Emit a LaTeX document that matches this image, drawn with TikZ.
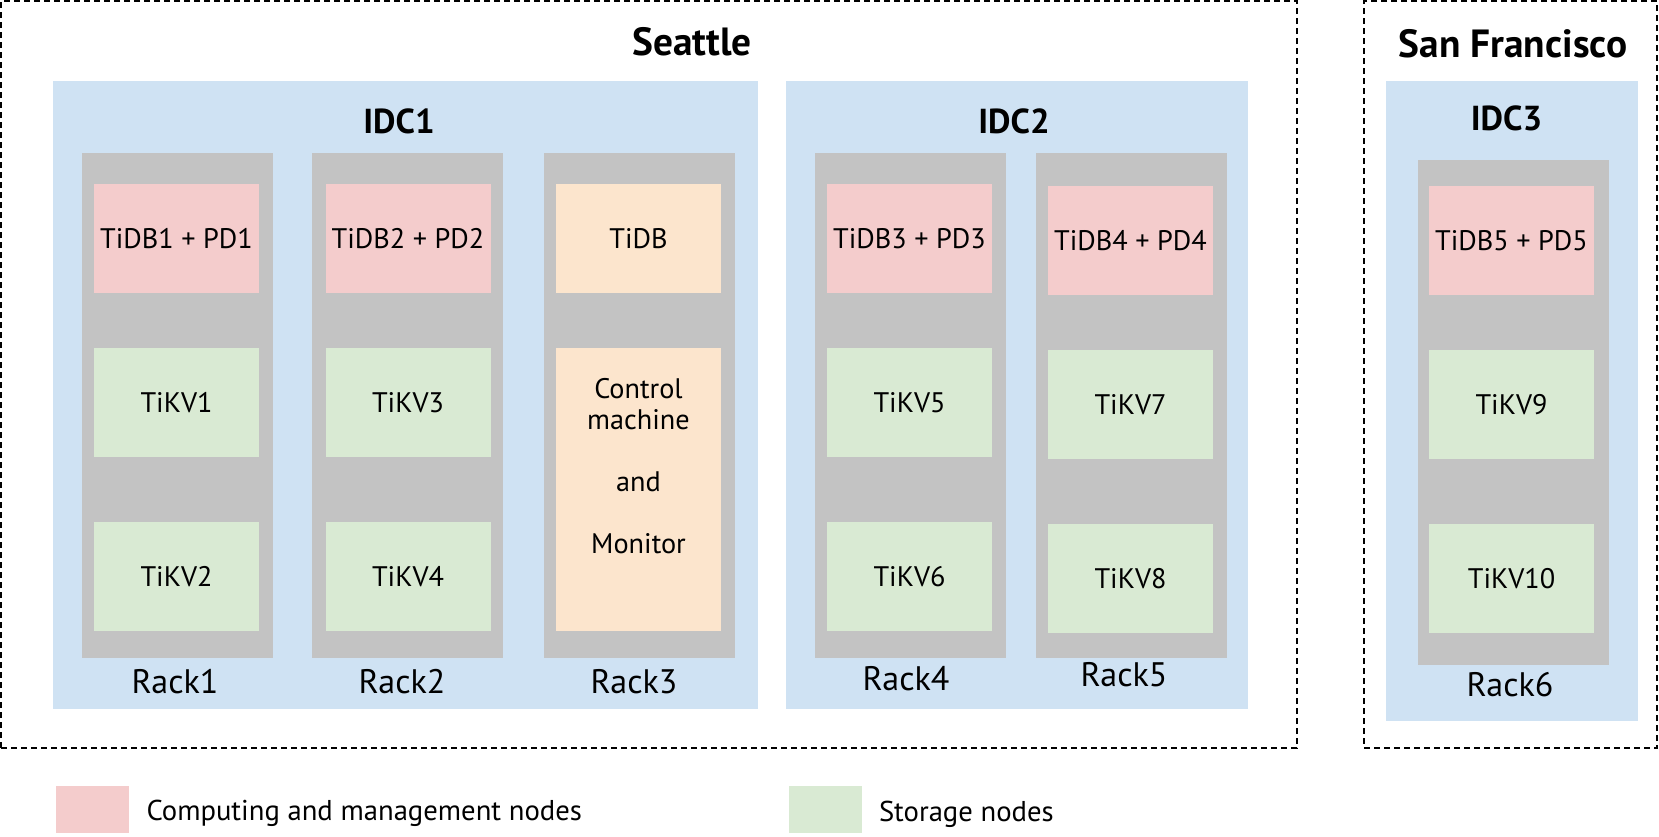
\documentclass[tikz,border=0pt]{standalone}
\usepackage{fontspec}
\setmainfont{PT Sans}
\definecolor{idcblue}{HTML}{CFE2F3}
\definecolor{rackgray}{HTML}{C3C3C3}
\definecolor{pinkfill}{HTML}{F4CCCC}
\definecolor{greenfill}{HTML}{D9EAD3}
\definecolor{peachfill}{HTML}{FCE5CD}
\begin{document}
\begin{tikzpicture}[x=0.75pt,y=-0.75pt,
  every node/.style={inner sep=0pt,outer sep=0pt},
  city/.style={draw=black,line width=1pt,dash pattern=on 4.5pt off 3pt},
  idc/.style={fill=idcblue},
  rack/.style={fill=rackgray,minimum width={191*0.75pt},minimum height={505*0.75pt}},
  srv/.style={minimum width={165*0.75pt},minimum height={109*0.75pt},font=\fontsize{21.2}{25}\selectfont},
  comp/.style={srv,fill=pinkfill},
  stor/.style={srv,fill=greenfill},
  ctrl/.style={fill=peachfill},
  title/.style={font=\fontsize{29.5}{34}\selectfont\bfseries},
  idctitle/.style={font=\fontsize{26}{30}\selectfont\bfseries},
  racklabel/.style={font=\fontsize{25.5}{30}\selectfont},
  legtext/.style={font=\fontsize{21.5}{25}\selectfont,anchor=west},
  legbox/.style={minimum width={73*0.75pt},minimum height={47*0.75pt}}
]
\useasboundingbox (0,0) rectangle (1659,836);
% cities
\node[city,minimum width={1296*0.75pt},minimum height={747*0.75pt}] (seattle) at (649,374.5) {};
\node[city,minimum width={293*0.75pt},minimum height={747*0.75pt}] (sf) at (1510.5,374.5) {};
\node[title] (seattlet) at (692,42) {Seattle};
\node[title] (sft) at (1513,44) {San Francisco};
% IDCs
\node[idc,minimum width={705*0.75pt},minimum height={628*0.75pt}] (idc1) at (405.5,395) {};
\node[idc,minimum width={462*0.75pt},minimum height={628*0.75pt}] (idc2) at (1017,395) {};
\node[idc,minimum width={252*0.75pt},minimum height={640*0.75pt}] (idc3) at (1512,401) {};
\node[idctitle] (idc1t) at (399,121) {IDC1};
\node[idctitle] (idc2t) at (1014,121) {IDC2};
\node[idctitle] (idc3t) at (1506.5,118.5) {IDC3};
% racks
\node[rack] (rack1) at (177,405.5) {};
\node[rack] (rack2) at (407.5,405.5) {};
\node[rack] (rack3) at (639.5,405.5) {};
\node[rack] (rack4) at (910.5,405.5) {};
\node[rack] (rack5) at (1131.5,405.5) {};
\node[rack] (rack6) at (1513.5,412) {};
\node[racklabel] (rack1l) at (175,682) {Rack1};
\node[racklabel] (rack2l) at (402,682) {Rack2};
\node[racklabel] (rack3l) at (634,682) {Rack3};
\node[racklabel] (rack4l) at (906,679) {Rack4};
\node[racklabel] (rack5l) at (1124,675) {Rack5};
\node[racklabel] (rack6l) at (1510,685) {Rack6};
% servers
\node[comp] (tidb1) at (176.5,238.5) {TiDB1 + PD1};
\node[stor] (tikv1) at (176.5,402.5) {TiKV1};
\node[stor] (tikv2) at (176.5,576.5) {TiKV2};
\node[comp] (tidb2) at (408,238.5) {TiDB2 + PD2};
\node[stor] (tikv3) at (408,402.5) {TiKV3};
\node[stor] (tikv4) at (408,576.5) {TiKV4};
\node[srv,fill=peachfill] (tidb) at (638.5,238.5) {TiDB};
\node[ctrl,minimum width={165*0.75pt},minimum height={283*0.75pt}] (control) at (638.5,489.5) {};
\node[font=\fontsize{21.2}{23.25}\selectfont,align=center] (controlt) at (638.5,466) {Control\\machine\\ \\and\\ \\Monitor};
\node[comp] (tidb3) at (909.5,238.5) {TiDB3 + PD3};
\node[stor] (tikv5) at (909.5,402.5) {TiKV5};
\node[stor] (tikv6) at (909.5,576.5) {TiKV6};
\node[comp] (tidb4) at (1130.5,240.5) {TiDB4 + PD4};
\node[stor] (tikv7) at (1130.5,404.5) {TiKV7};
\node[stor] (tikv8) at (1130.5,578.5) {TiKV8};
\node[comp] (tidb5) at (1511.5,240.5) {TiDB5 + PD5};
\node[stor] (tikv9) at (1511.5,404.5) {TiKV9};
\node[stor] (tikv10) at (1511.5,578.5) {TiKV10};
% legend
\node[legbox,fill=pinkfill] (legc) at (92.5,809) {};
\node[legtext] (legct) at (146.5,813) {Computing and management nodes};
\node[legbox,fill=greenfill] (legs) at (825.5,809.5) {};
\node[legtext] (legst) at (879,814) {Storage nodes};
\end{tikzpicture}
\end{document}
